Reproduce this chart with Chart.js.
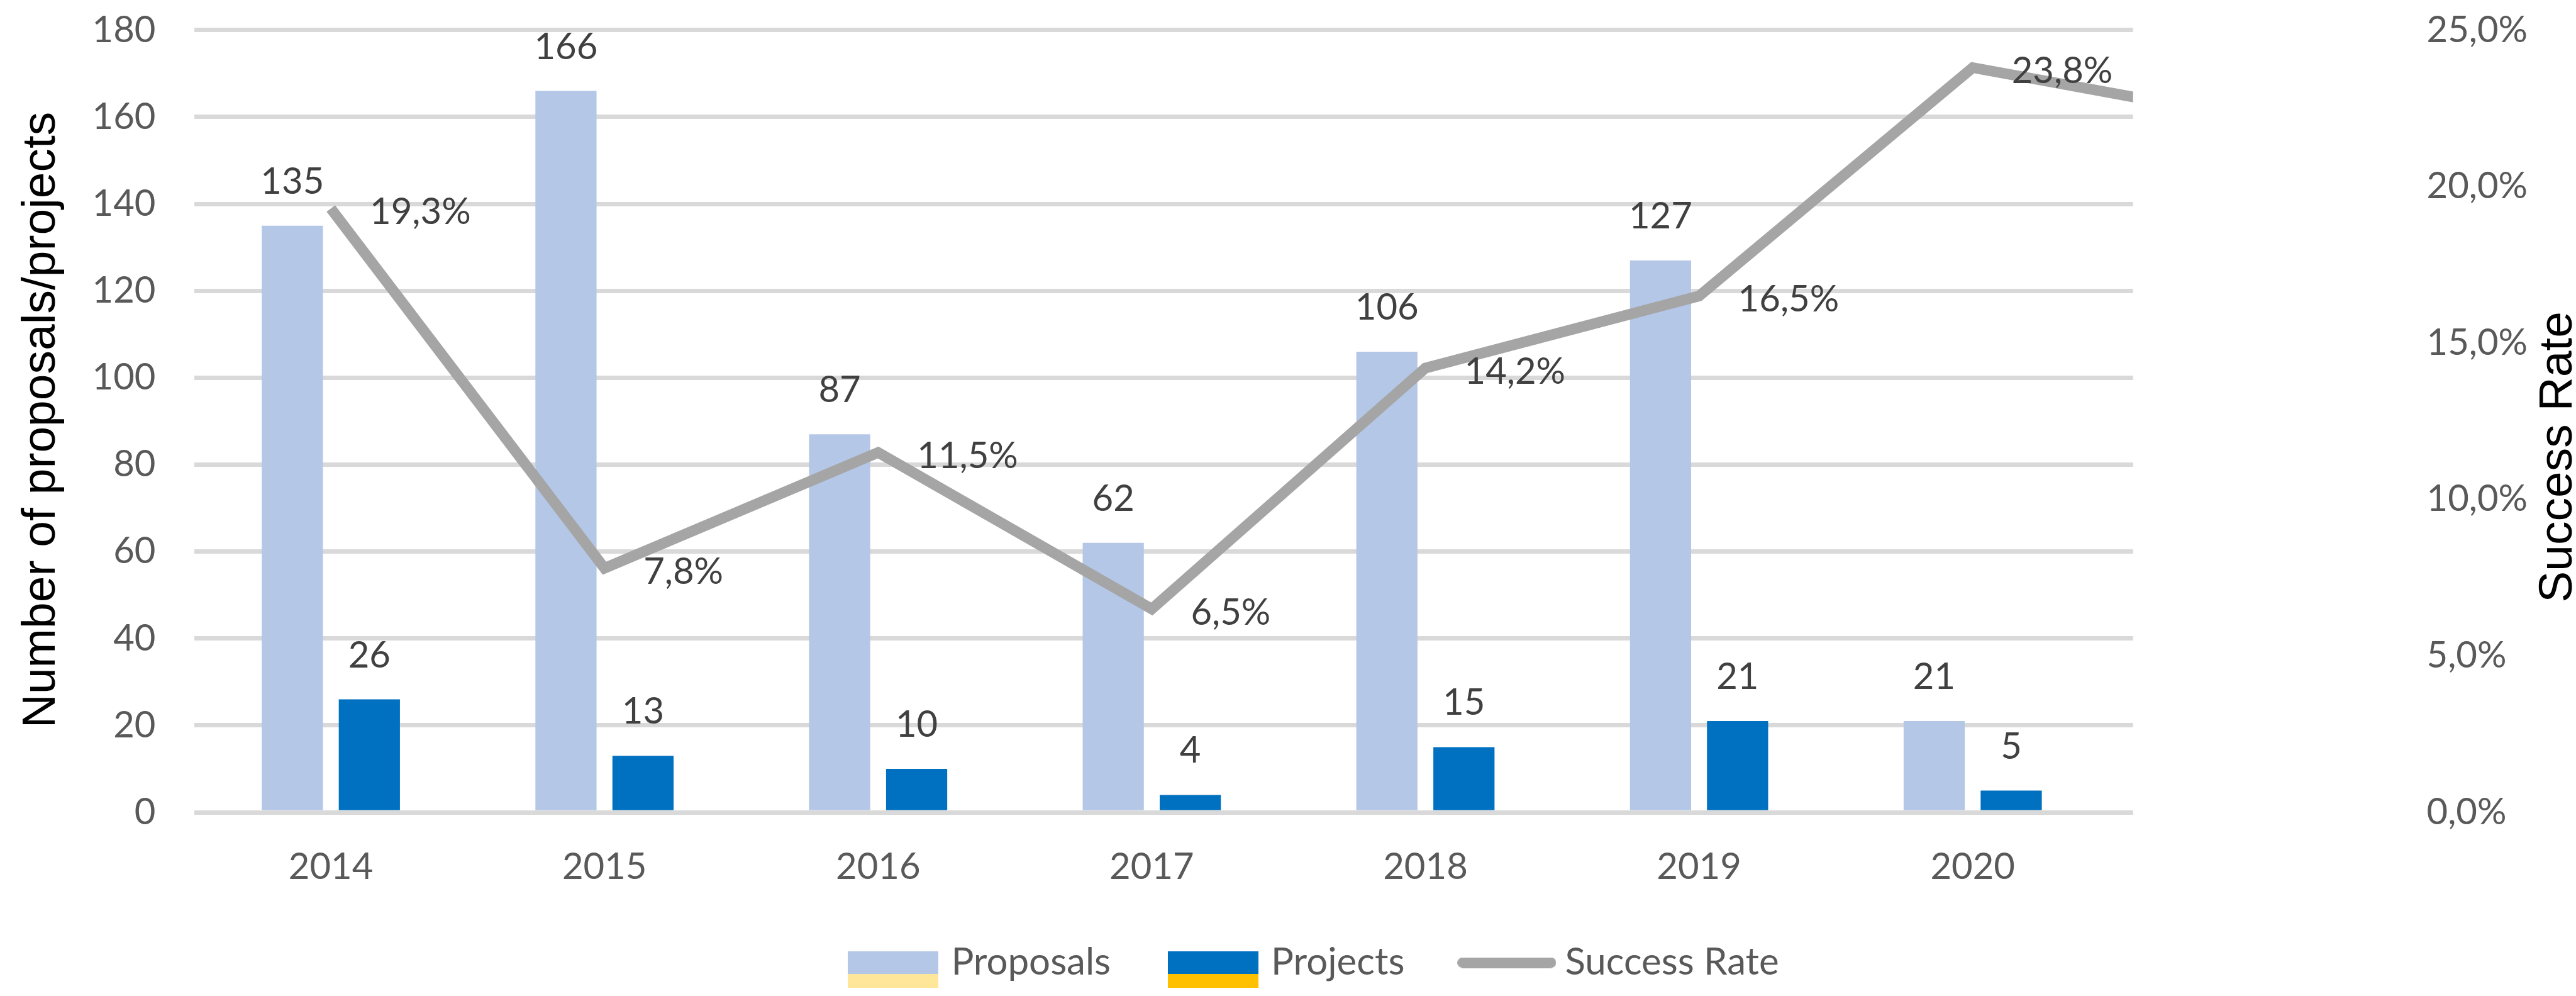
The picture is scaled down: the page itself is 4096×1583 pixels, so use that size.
<!DOCTYPE html>
<html>
<head>
<meta charset="utf-8">
<title>Proposals, projects and success rate</title>
<script src="https://cdn.jsdelivr.net/npm/chart.js@4.4.1/dist/chart.umd.min.js"></script>
<style>
    html, body { margin: 0; padding: 0; background: #ffffff; }
    #wrap { width: 4096px; height: 1583px; }
</style>
</head>
<body>
<div id="wrap"><canvas id="chart"></canvas></div>
<script>
// ==================== DATOS ====================
const years = ['2014', '2015', '2016', '2017', '2018', '2019', '2020', '2021'];
const proposals = [135, 166, 87, 62, 106, 127, 21];
const projects = [26, 13, 10, 4, 15, 21, 5];
// tasa de éxito en %, el último punto queda cortado por el borde del gráfico
const successRate = [19.3, 7.8, 11.5, 6.5, 14.2, 16.5, 23.8, 22.2];

const countRange = [0, 180, 20];
const rateRange = [0, 25, 5];

const COLORS = {
    proposals: '#b4c7e7',
    projects: '#0070c0',
    rate: '#a5a5a5',
    proposalsExtra: '#ffe699',
    projectsExtra: '#ffc000',
    tick: '#595959',
    label: '#404040',
    grid: '#d9d9d9'
};

const TICK_FONT = { family: 'Lato', size: 58 };

function pct(v) {
    return v.toFixed(1).replace('.', ',') + '%';
}

// el padding de los ticks no debe empujar el área del gráfico
function fixBox(width, height) {
    return (s) => {
        if (width !== null) s.width = width;
        if (height !== null) s.height = height;
        s.paddingTop = 0;
        s.paddingBottom = 0;
        s.paddingLeft = 0;
        s.paddingRight = 0;
    };
}

// ==================== LEYENDA ====================
function boxSwatch(top, bottom) {
    const c = document.createElement('canvas');
    c.width = 144;
    c.height = 108;
    const g = c.getContext('2d');
    g.fillStyle = top;
    g.fillRect(0, 36, 144, 36);
    g.fillStyle = bottom;
    g.fillRect(0, 72, 144, 36);
    return c;
}

function lineSwatch(color) {
    const c = document.createElement('canvas');
    c.width = 157;
    c.height = 17;
    const g = c.getContext('2d');
    g.strokeStyle = color;
    g.lineWidth = 17;
    g.lineCap = 'round';
    g.beginPath();
    g.moveTo(8.5, 8.5);
    g.lineTo(148.5, 8.5);
    g.stroke();
    return c;
}

const legendItems = [
    { text: 'Proposals', pointStyle: boxSwatch(COLORS.proposals, COLORS.proposalsExtra), datasetIndex: 0 },
    { text: 'Projects', pointStyle: boxSwatch(COLORS.projects, COLORS.projectsExtra), datasetIndex: 1 },
    { text: 'Success Rate', pointStyle: lineSwatch(COLORS.rate), datasetIndex: 2 }
].map(it => Object.assign(it, {
    fillStyle: 'transparent',
    strokeStyle: 'transparent',
    lineWidth: 0,
    hidden: false,
    fontColor: COLORS.tick
}));

// ==================== ETIQUETAS ====================
const valueLabels = {
    id: 'valueLabels',
    afterDatasetsDraw(chart) {
        const ctx = chart.ctx;
        const area = chart.chartArea;
        ctx.save();
        ctx.font = '58px Lato';
        ctx.fillStyle = COLORS.label;

        [0, 1].forEach(di => {
            const meta = chart.getDatasetMeta(di);
            ctx.textAlign = 'center';
            ctx.textBaseline = 'alphabetic';
            meta.data.forEach((bar, i) => {
                ctx.fillText(chart.data.datasets[di].data[i].y, bar.x, bar.y - 51);
            });
        });

        const lineMeta = chart.getDatasetMeta(2);
        ctx.textAlign = 'left';
        ctx.textBaseline = 'middle';
        lineMeta.data.forEach((pt, i) => {
            if (pt.x > area.right) return;
            ctx.fillText(pct(successRate[i]), pt.x + 62, pt.y + 6);
        });
        ctx.restore();
    },
    afterDraw(chart) {
        const ctx = chart.ctx;
        const area = chart.chartArea;
        ctx.save();
        ctx.font = '75px "Liberation Sans"';
        ctx.fillStyle = '#000000';
        ctx.textAlign = 'center';
        ctx.textBaseline = 'alphabetic';

        ctx.translate(87, (area.top + area.bottom) / 2 - 2);
        ctx.rotate(-Math.PI / 2);
        ctx.fillText('Number of proposals/projects', 0, 0);
        ctx.restore();

        ctx.save();
        ctx.font = '75px "Liberation Sans"';
        ctx.fillStyle = '#000000';
        ctx.textAlign = 'center';
        ctx.textBaseline = 'alphabetic';
        ctx.translate(chart.width - 7, (area.top + area.bottom) / 2 + 57);
        ctx.rotate(-Math.PI / 2);
        ctx.fillText('Success Rate', 0, 0);
        ctx.restore();
    }
};

// ==================== CHART ====================
const ctx = document.getElementById('chart').getContext('2d');

const chart = new Chart(ctx, {
    type: 'bar',
    data: {
        datasets: [{
            label: 'Proposals',
            data: proposals.map((v, i) => ({ x: i, y: v })),
            backgroundColor: COLORS.proposals,
            categoryPercentage: 0.563,
            barPercentage: 0.794,
            yAxisID: 'y',
            order: 1
        }, {
            label: 'Projects',
            data: projects.map((v, i) => ({ x: i, y: v })),
            backgroundColor: COLORS.projects,
            categoryPercentage: 0.563,
            barPercentage: 0.794,
            yAxisID: 'y',
            order: 2
        }, {
            type: 'line',
            label: 'Success Rate',
            data: successRate.map((v, i) => ({ x: i, y: v })),
            borderColor: COLORS.rate,
            backgroundColor: COLORS.rate,
            borderWidth: 17,
            pointRadius: 0,
            tension: 0,
            fill: false,
            yAxisID: 'y2',
            order: 0
        }]
    },
    options: {
        animation: false,
        responsive: true,
        maintainAspectRatio: false,
        devicePixelRatio: 1,
        layout: {
            padding: { left: 90, right: 0, top: 47.8, bottom: 13 }
        },
        scales: {
            x: {
                type: 'linear',
                position: 'bottom',
                offset: false,
                min: -0.5,
                max: 6.586,
                grid: { display: false, drawTicks: false, offset: false },
                border: { display: false },
                afterBuildTicks: (s) => {
                    s.ticks = proposals.map((_, i) => ({ value: i }));
                },
                afterFit: fixBox(null, 108.9),
                ticks: {
                    color: COLORS.tick,
                    font: TICK_FONT,
                    padding: 52,
                    maxRotation: 0,
                    autoSkip: false,
                    callback: (v) => years[v]
                }
            },
            y: {
                position: 'left',
                min: countRange[0],
                max: countRange[1],
                grid: { color: COLORS.grid, lineWidth: 7, drawTicks: false },
                border: { display: false },
                afterFit: fixBox(218.5, null),
                ticks: {
                    stepSize: countRange[2],
                    color: COLORS.tick,
                    font: TICK_FONT,
                    padding: 61,
                    autoSkip: false
                }
            },
            y2: {
                position: 'right',
                min: rateRange[0],
                max: rateRange[1],
                grid: { display: false, drawTicks: false },
                border: { display: false },
                afterFit: fixBox(704.3, null),
                ticks: {
                    stepSize: rateRange[2],
                    color: COLORS.tick,
                    font: TICK_FONT,
                    padding: 466.8,
                    autoSkip: false,
                    callback: (v) => pct(v)
                }
            }
        },
        plugins: {
            tooltip: { enabled: false },
            legend: {
                position: 'bottom',
                labels: {
                    usePointStyle: true,
                    pointStyleWidth: 125,
                    boxHeight: 36,
                    padding: 100,
                    color: COLORS.tick,
                    font: { family: 'Lato', size: 60 },
                    generateLabels: () => legendItems
                }
            }
        }
    },
    plugins: [valueLabels]
});
</script>
</body>
</html>
